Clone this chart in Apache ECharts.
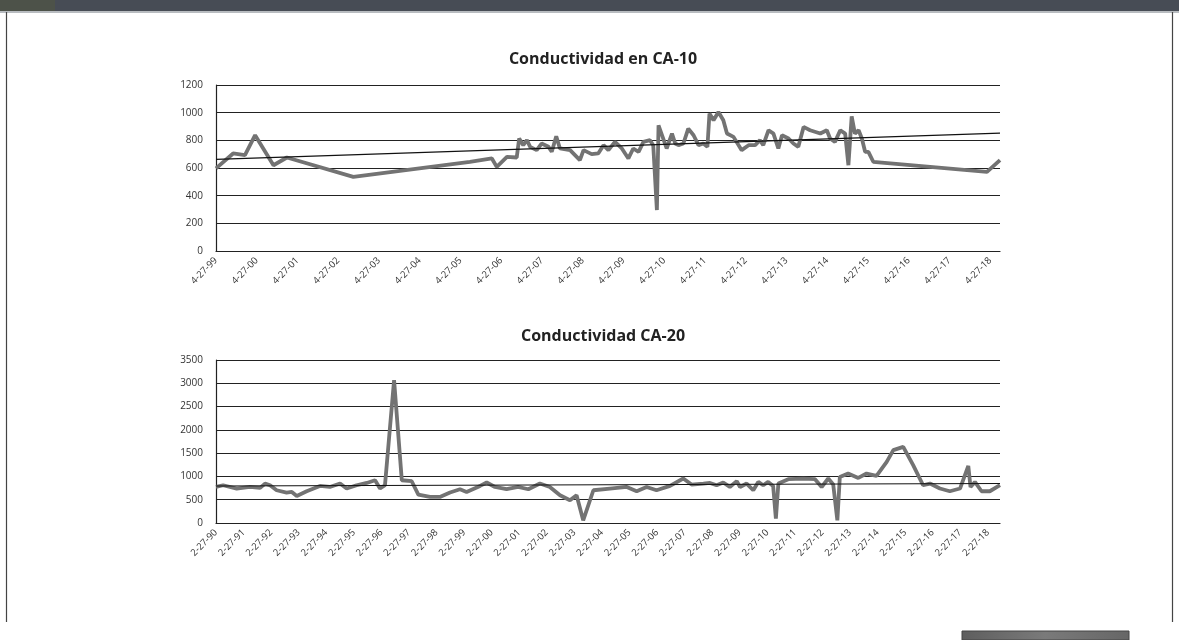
<!DOCTYPE html>
<html>
<head>
<meta charset="utf-8">
<script src="https://cdn.jsdelivr.net/npm/echarts@6/dist/echarts.min.js"></script>
<style>
html,body{margin:0;padding:0;background:#fff;}
#c{width:1179px;height:640px;}
</style>
</head>
<body>
<div id="c"></div>
<script>
// ---- CA-10 : years after 27-Apr-1999, conductivity ----
const ca10T = [0.00,0.42,0.71,0.96,1.41,1.74,3.37,6.23,6.77,6.89,7.14,7.38,7.44,7.54,7.63,7.71,7.87,7.99,8.16,8.24,8.35,8.44,8.69,8.93,9.02,9.22,9.38,9.51,9.63,9.79,9.96,10.12,10.24,10.37,10.49,10.65,10.73,10.82,10.86,11.06,11.19,11.27,11.35,11.47,11.59,11.72,11.84,11.96,12.06,12.11,12.21,12.33,12.45,12.54,12.70,12.90,13.07,13.23,13.35,13.43,13.56,13.68,13.80,13.89,14.05,14.17,14.29,14.42,14.58,14.83,14.99,15.07,15.19,15.32,15.44,15.52,15.60,15.68,15.77,15.85,15.93,16.01,16.13,18.92,19.24];
const ca10V = [597,705,693,837,620,676,536,645,669,608,680,676,813,765,801,753,729,777,753,717,830,741,729,657,729,700,705,765,729,789,741,669,741,717,789,801,765,296,909,741,849,777,765,777,885,837,765,777,753,994,945,1005,945,849,825,729,765,765,801,765,873,849,741,837,813,777,753,897,873,849,873,813,789,873,849,620,974,849,873,813,717,717,645,572,657];
const ca10Trend = [[0,662],[19.24,852]];
const ca10Labels = ['4-27-99','4-27-00','4-27-01','4-27-02','4-27-03','4-27-04','4-27-05','4-27-06','4-27-07','4-27-08','4-27-09','4-27-10','4-27-11','4-27-12','4-27-13','4-27-14','4-27-15','4-27-16','4-27-17','4-27-18'];

// ---- CA-20 : years after 27-Feb-1990, conductivity ----
const ca20T = [0,0.26,0.75,1.23,1.60,1.78,1.96,2.20,2.56,2.75,2.93,3.29,3.77,4.13,4.50,4.74,5.10,5.47,5.77,5.95,6.13,6.46,6.74,7.10,7.34,7.76,8.12,8.49,8.85,9.09,9.58,9.82,10.12,10.54,10.96,11.33,11.75,12.11,12.48,12.84,13.08,13.32,13.69,14.29,14.90,15.26,15.62,15.98,16.47,16.95,17.25,17.68,17.92,18.16,18.40,18.64,18.89,19.01,19.25,19.49,19.67,19.85,20.03,20.21,20.31,20.40,20.76,21.30,21.73,21.97,22.21,22.39,22.54,22.63,22.93,23.30,23.60,23.96,24.33,24.57,24.93,25.29,25.65,25.90,26.26,26.62,26.99,27.29,27.37,27.53,27.77,28.07,28.44];
const ca20V = [774,811,740,774,753,847,811,703,654,667,581,682,796,774,847,740,811,860,918,740,811,3069,918,897,611,559,559,654,725,667,796,869,774,725,774,725,847,774,596,488,596,58,703,740,774,682,774,703,796,955,826,847,860,811,869,774,900,774,847,703,882,811,882,796,95,847,940,955,940,774,955,826,58,989,1062,968,1062,1011,1312,1564,1635,1241,811,847,740,682,740,1226,774,882,682,682,811];
const ca20Trend = [[0,796],[28.44,849]];
const ca20Labels = ['2-27-90','2-27-91','2-27-92','2-27-93','2-27-94','2-27-95','2-27-96','2-27-97','2-27-98','2-27-99','2-27-00','2-27-01','2-27-02','2-27-03','2-27-04','2-27-05','2-27-06','2-27-07','2-27-08','2-27-09','2-27-10','2-27-11','2-27-12','2-27-13','2-27-14','2-27-15','2-27-16','2-27-17','2-27-18'];

const zip = (a, b) => a.map((x, i) => [x, b[i]]);
const FONT = '"Open Sans", "Liberation Sans", sans-serif';

function xAxis(gi, labels, max) {
  return {
    type: 'value', gridIndex: gi, min: 0, max: max, interval: 1,
    axisLine: { show: true, lineStyle: { color: '#222', width: 1.2 } },
    axisTick: { show: false },
    splitLine: { show: false },
    axisLabel: {
      rotate: 45, fontSize: 9.5, color: '#333', fontFamily: FONT, margin: 8,
      showMaxLabel: false,
      formatter: v => (Math.abs(v - Math.round(v)) < 1e-6 && labels[Math.round(v)]) ? labels[Math.round(v)] : ''
    }
  };
}
function yAxis(gi, max, interval) {
  return {
    type: 'value', gridIndex: gi, min: 0, max: max, interval: interval,
    axisLine: { show: true, lineStyle: { color: '#222', width: 1.2 } },
    axisTick: { show: false },
    splitLine: { show: true, lineStyle: { color: '#222', width: 1.2 } },
    axisLabel: { fontSize: 10, color: '#333', fontFamily: FONT, margin: 13, formatter: v => String(v) }
  };
}
const dataLine = { color: '#737373', width: 3.8 };
const trendLine = { color: '#111', width: 1.1 };

const chart = echarts.init(document.getElementById('c'));
chart.setOption({
  backgroundColor: '#fff',
  animation: false,
  title: [
    { text: 'Conductividad en CA-10', left: 598, top: 46, textAlign: 'center',
      textStyle: { fontFamily: FONT, fontSize: 16, fontWeight: 'bold', color: '#222' } },
    { text: 'Conductividad CA-20', left: 598, top: 323, textAlign: 'center',
      textStyle: { fontFamily: FONT, fontSize: 16, fontWeight: 'bold', color: '#222' } }
  ],
  grid: [
    { left: 216, right: 179, top: 85, height: 166 },
    { left: 216, right: 179, top: 360, height: 163 }
  ],
  xAxis: [xAxis(0, ca10Labels, ca10T[ca10T.length - 1]), xAxis(1, ca20Labels, ca20T[ca20T.length - 1])],
  yAxis: [yAxis(0, 1200, 200), yAxis(1, 3500, 500)],
  series: [
    { type: 'line', xAxisIndex: 0, yAxisIndex: 0, data: zip(ca10T, ca10V), showSymbol: false, lineStyle: dataLine, z: 3 },
    { type: 'line', xAxisIndex: 0, yAxisIndex: 0, data: ca10Trend, showSymbol: false, lineStyle: trendLine, z: 4 },
    { type: 'line', xAxisIndex: 1, yAxisIndex: 1, data: zip(ca20T, ca20V), showSymbol: false, lineStyle: dataLine, z: 3 },
    { type: 'line', xAxisIndex: 1, yAxisIndex: 1, data: ca20Trend, showSymbol: false, lineStyle: trendLine, z: 4 }
  ],
  graphic: [
    { type: 'rect', shape: { x: 0, y: 0, width: 1179, height: 11 }, style: { fill: '#474c55' } },
    { type: 'rect', shape: { x: 0, y: 0, width: 55, height: 11 }, style: { fill: '#4d5249' } },
    { type: 'rect', shape: { x: 0, y: 11, width: 1179, height: 2 }, style: { fill: '#b8bcc0' } },
    { type: 'line', shape: { x1: 6.5, y1: 12, x2: 6.5, y2: 622 }, style: { stroke: '#444', lineWidth: 1.2 } },
    { type: 'line', shape: { x1: 1172.5, y1: 12, x2: 1172.5, y2: 622 }, style: { stroke: '#444', lineWidth: 1.2 } },
    { type: 'rect', shape: { x: 962, y: 631, width: 167, height: 9 },
      style: { fill: new echarts.graphic.LinearGradient(0, 0, 1, 0, [{ offset: 0, color: '#5e5e5e' }, { offset: 0.5, color: '#7a7a7a' }, { offset: 1, color: '#666' }]), stroke: '#444', lineWidth: 1 } }
  ]
});
</script>
</body>
</html>
